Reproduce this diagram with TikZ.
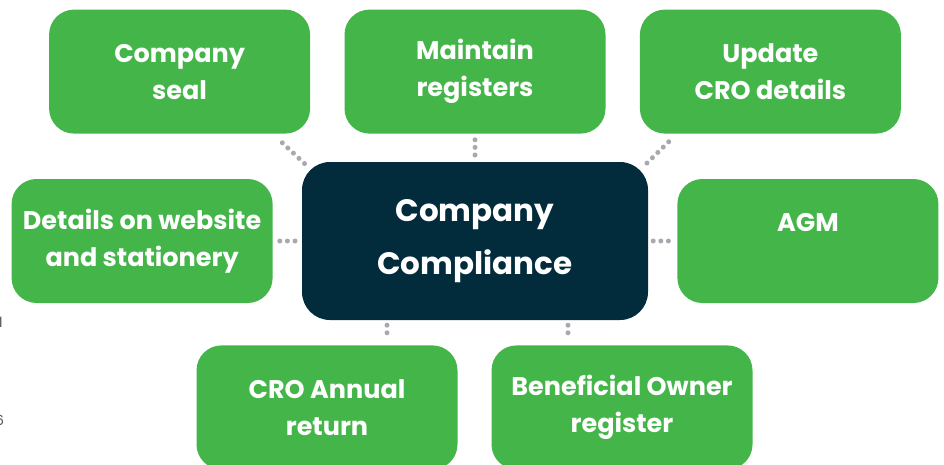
\documentclass[tikz,border=0pt]{standalone}
\usepackage{fontspec}
\setmainfont{Poppins}
\usepackage{tikz}
\usetikzlibrary{
  positioning,
  calc
}
\definecolor{taskgreen}{HTML}{44B649}
\definecolor{corenavy}{HTML}{022B3C}
\definecolor{dotgrey}{HTML}{A8A8AF}
\definecolor{edgetext}{HTML}{555555}
\tikzset{
  taskbox/.style={
    fill=taskgreen,
    rounded corners=25pt,
    align=center,
    minimum width=261pt,
    minimum height=124pt,
    inner sep=0pt,
    text=white,
    font=\fontsize{25.5}{37}\selectfont\bfseries
  },
  corebox/.style={
    fill=corenavy,
    rounded corners=28pt,
    align=center,
    minimum width=346pt,
    minimum height=158pt,
    inner sep=0pt,
    text=white,
    font=\fontsize{31}{53}\selectfont\bfseries
  },
  dotline/.style={draw=dotgrey,line width=5pt,line cap=round,dash pattern=on 0pt off 7.6pt},
  edgemark/.style={text=edgetext,font=\fontsize{14}{16}\selectfont,inner sep=0pt},
}

\begin{document}
\begin{tikzpicture}
  \clip (0,0) rectangle (944pt,-464pt);
  \node[corebox] (comp) at (475pt,-241pt) {Company\\Compliance};
  \node[taskbox,above=28pt of comp] (maint) {Maintain\\registers};
  \node[taskbox,left=34pt of maint] (seal) {Company\\seal};
  \node[taskbox,right=34pt of maint] (cro) {Update\\CRO details};
  \node[taskbox,left=29pt of comp] (web) {Details on website\\and stationery};
  \node[taskbox,right=29pt of comp] (agm) {AGM\\\mbox{}};
  \node[taskbox,below=25pt of comp,xshift=-148pt] (annual) {CRO Annual\\return};
  \node[taskbox,below=25pt of comp,xshift=147pt] (owner) {Beneficial Owner\\register};

  % cut-off letters along the left edge
  \node[edgemark,anchor=west] (markl) at (-1pt,-322pt) {l};
  \node[edgemark,anchor=west] (marks) at (-5pt,-420pt) {6};

  \draw[dotline] ([xshift=-28pt,yshift=-9pt]seal.south east) -- ([xshift=3pt,yshift=-2pt]comp.north west);
  \draw[dotline,shorten >=5pt,shorten <=6pt] (maint.south) -- (maint.south |- comp.north);
  \draw[dotline] ([xshift=29pt,yshift=-8pt]cro.south west) -- ([xshift=-2pt,yshift=-2pt]comp.north east);
  \draw[dotline,shorten <=7pt,shorten >=5pt] (web.east) -- (comp.west);
  \draw[dotline,shorten <=5pt,shorten >=6pt] (comp.east) -- (agm.west);
  \draw[dotline,shorten <=5pt,shorten >=5pt] ([xshift=60pt]annual.north |- comp.south) -- ([xshift=60pt]annual.north);
  \draw[dotline,shorten <=5pt,shorten >=5pt] ([xshift=-54pt]owner.north |- comp.south) -- ([xshift=-54pt]owner.north);
\end{tikzpicture}
\end{document}
